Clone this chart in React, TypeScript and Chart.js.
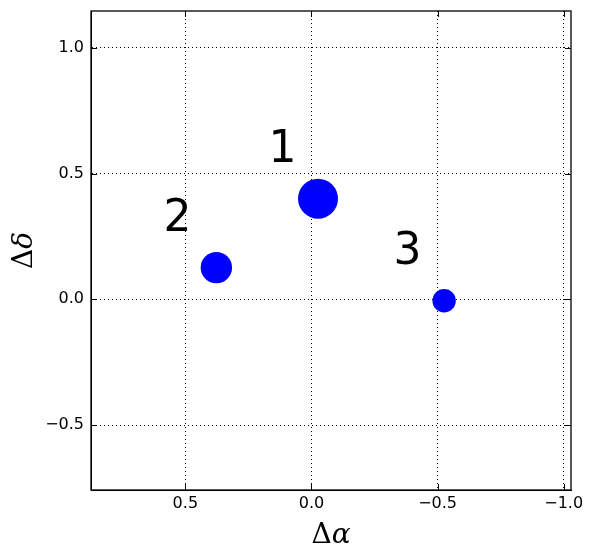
import React, { useEffect, useRef } from "react";
import { Chart, registerables } from "chart.js";

Chart.register(...registerables);

// ---- data ----
const sourceIds = ["1", "2", "3"];
const deltaAlpha = [-0.026, 0.377, -0.526];
const deltaDelta = [0.4, 0.126, -0.006];
const labelAlpha = [0.115, 0.531, -0.381];
const labelDelta = [0.608, 0.335, 0.205];
const markerRadius = [20, 15.7, 11.7];

const xTicks = [0.5, 0.0, -0.5, -1.0];
const xTickLabels = ["0.5", "0.0", "\u22120.5", "\u22121.0"];
const yTicks = [-0.5, 0.0, 0.5, 1.0];
const yTickLabels = ["\u22120.5", "0.0", "0.5", "1.0"];
const xRange = [-1.029, 0.874];
const yRange = [-0.758, 1.146];

const xTitle = ["\u0394", "\u03b1"];
const yTitle = ["\u0394", "\u03b4"];

const tickFont = { family: "'DejaVu Sans'", size: 16 };

function findLabel(vals: number[], labels: string[], v: number) {
  for (let i = 0; i < vals.length; i++) if (Math.abs(vals[i] - v) < 1e-9) return labels[i];
  return "";
}

const framePlugin = {
  id: "frame",
  afterDraw(chart: any) {
    const { ctx, chartArea } = chart;
    const { left, right, top, bottom } = chartArea;
    const xs = chart.scales.x;
    const ys = chart.scales.y;
    ctx.save();
    ctx.strokeStyle = "#000";
    ctx.lineWidth = 1.3;
    ctx.setLineDash([]);
    ctx.strokeRect(left, top, right - left, bottom - top);
    // inward ticks on all sides
    const tl = 6;
    ctx.lineWidth = 1;
    ctx.beginPath();
    xTicks.forEach((v) => {
      const px = Math.round(xs.getPixelForValue(v)) + 0.5;
      ctx.moveTo(px, bottom);
      ctx.lineTo(px, bottom - tl);
      ctx.moveTo(px, top);
      ctx.lineTo(px, top + tl);
    });
    yTicks.forEach((v) => {
      const py = Math.round(ys.getPixelForValue(v)) + 0.5;
      ctx.moveTo(left, py);
      ctx.lineTo(left + tl, py);
      ctx.moveTo(right, py);
      ctx.lineTo(right - tl, py);
    });
    ctx.stroke();

    // source labels
    const size = 44;
    ctx.fillStyle = "#000";
    ctx.font = `${size}px 'DejaVu Sans'`;
    ctx.textAlign = "center";
    ctx.textBaseline = "alphabetic";
    sourceIds.forEach((id, i) => {
      const px = xs.getPixelForValue(labelAlpha[i]);
      const py = ys.getPixelForValue(labelDelta[i]);
      ctx.fillText(id, px, py + size * 0.729 / 2);
    });

    // axis titles (upright Delta + italic greek)
    const tSize = 28;
    const drawTitle = (parts: string[], cx: number, baseline: number) => {
      ctx.textAlign = "left";
      ctx.textBaseline = "alphabetic";
      ctx.font = `${tSize}px 'DejaVu Serif'`;
      const w0 = ctx.measureText(parts[0]).width;
      ctx.font = `italic ${tSize}px 'DejaVu Serif'`;
      const w1 = ctx.measureText(parts[1]).width;
      const x0 = cx - (w0 + w1) / 2;
      ctx.font = `${tSize}px 'DejaVu Serif'`;
      ctx.fillText(parts[0], x0, baseline);
      ctx.font = `italic ${tSize}px 'DejaVu Serif'`;
      ctx.fillText(parts[1], x0 + w0, baseline);
    };
    drawTitle(xTitle, (left + right) / 2, 543);
    ctx.save();
    ctx.translate(32, (top + bottom) / 2);
    ctx.rotate(-Math.PI / 2);
    drawTitle(yTitle, 0, 0);
    ctx.restore();
    ctx.restore();
  },
};

export default function App() {
  const ref = useRef<HTMLCanvasElement | null>(null);
  useEffect(() => {
    if (!ref.current) return;
    const chart = new Chart(ref.current, {
      type: "scatter",
      data: {
        datasets: [
          {
            data: deltaAlpha.map((x, i) => ({ x, y: deltaDelta[i] })),
            backgroundColor: "#0000ff",
            borderWidth: 0,
            pointRadius: markerRadius,
            pointHoverRadius: markerRadius,
          },
        ],
      },
      options: {
        animation: false,
        responsive: false,
        devicePixelRatio: 1,
        layout: { autoPadding: false, padding: { left: 0, top: 11, right: 22, bottom: 0 } },
        plugins: { legend: { display: false }, tooltip: { enabled: false } },
        scales: {
          x: {
            type: "linear",
            reverse: true,
            min: xRange[0],
            max: xRange[1],
            z: 1,
            afterBuildTicks: (s: any) => {
              s.ticks = xTicks.map((v) => ({ value: v }));
            },
            afterFit: (s: any) => {
              s.height = 68;
              s.paddingLeft = 0;
              s.paddingRight = 0;
            },
            ticks: {
              autoSkip: false,
              maxRotation: 0,
              padding: 4,
              color: "#000",
              font: tickFont,
              callback: (v: any) => findLabel(xTicks, xTickLabels, Number(v)),
            },
            grid: { color: "#000", lineWidth: 1, drawTicks: false },
            border: { display: true, color: "#000", width: 1, dash: [1, 3] },
          },
          y: {
            type: "linear",
            min: yRange[0],
            max: yRange[1],
            z: 1,
            afterBuildTicks: (s: any) => {
              s.ticks = yTicks.map((v) => ({ value: v }));
            },
            afterFit: (s: any) => {
              s.width = 91;
              s.paddingTop = 0;
              s.paddingBottom = 0;
            },
            ticks: {
              autoSkip: false,
              padding: 7,
              color: "#000",
              font: tickFont,
              callback: (v: any) => findLabel(yTicks, yTickLabels, Number(v)),
            },
            grid: { color: "#000", lineWidth: 1, drawTicks: false },
            border: { display: true, color: "#000", width: 1, dash: [1, 3] },
          },
        },
      },
      plugins: [framePlugin],
    } as any);
    return () => chart.destroy();
  }, []);
  return (
    <div style={{ position: "fixed", left: 0, top: 0, width: 593, height: 558, background: "#fff" }}>
      <canvas ref={ref} width={593} height={558} />
    </div>
  );
}
